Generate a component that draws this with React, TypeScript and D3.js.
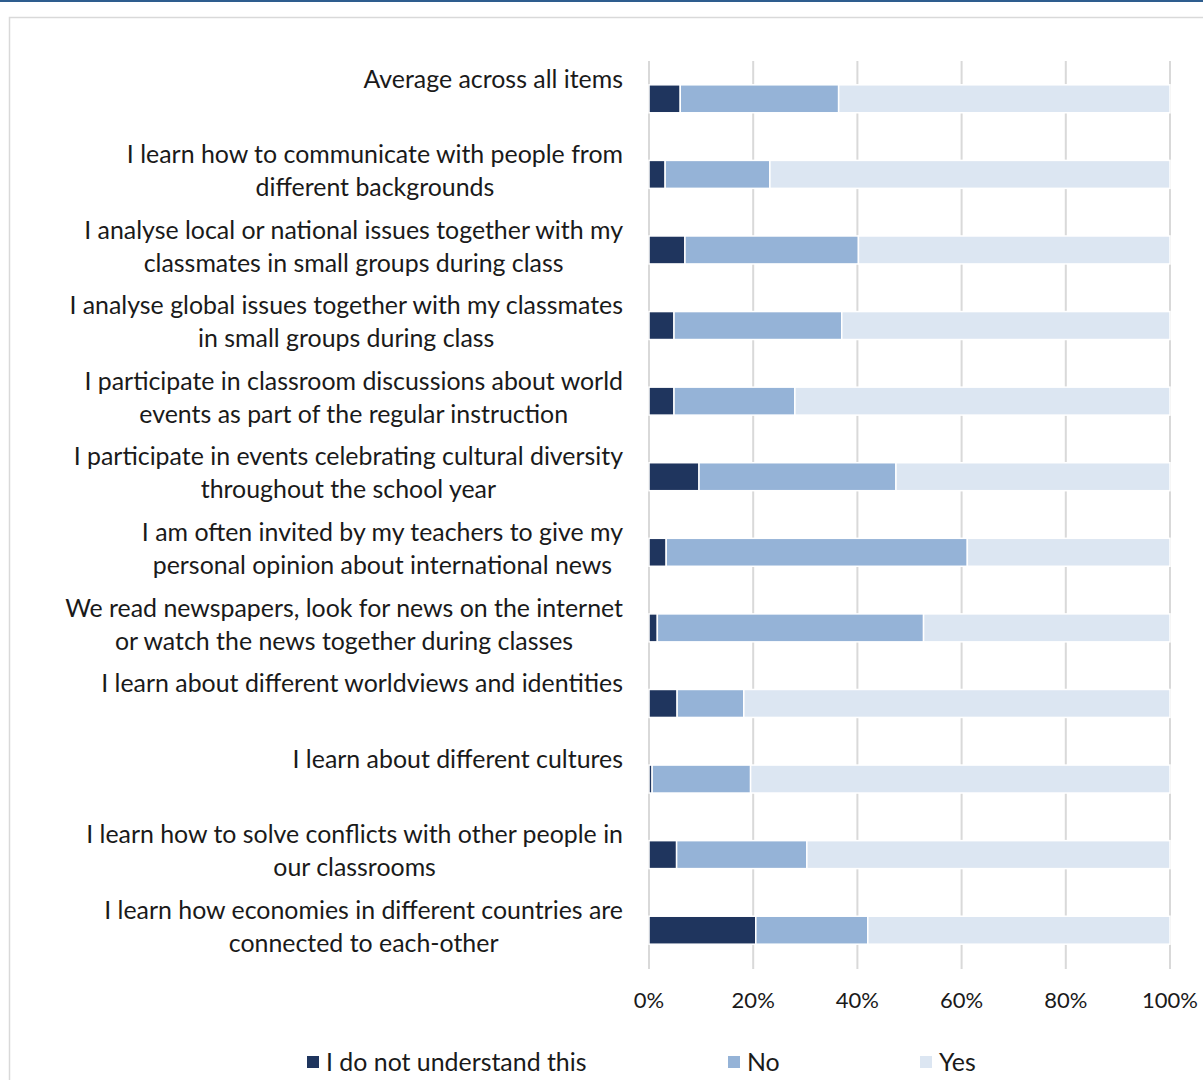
import React, { useEffect, useRef } from "react";
import * as d3 from "d3";

const categories: string[][] = [
  ["Average across all items"],
  ["I learn how to communicate with people from", "different backgrounds"],
  ["I analyse local or national issues together with my", "classmates in small groups during class"],
  ["I analyse global issues together with my classmates", "in small groups during class"],
  ["I participate in classroom discussions about world", "events as part of the regular instruction"],
  ["I participate in events celebrating cultural diversity", "throughout the school year"],
  ["I am often invited by my teachers to give my", "personal opinion about international news"],
  ["We read newspapers, look for news on the internet", "or watch the news together during classes"],
  ["I learn about different worldviews and identities"],
  ["I learn about different cultures"],
  ["I learn how to solve conflicts with other people in", "our classrooms"],
  ["I learn how economies in different countries are", "connected to each-other"],
];

const dontUnderstand = [6.0, 3.1, 6.9, 4.8, 4.8, 9.6, 3.3, 1.6, 5.4, 0.6, 5.3, 20.5];
const no = [30.4, 20.1, 33.3, 32.2, 23.2, 37.8, 57.8, 51.1, 12.8, 18.9, 25.0, 21.5];
const yes = dontUnderstand.map((d, i) => 100 - d - no[i]);

const seriesNames = ["I do not understand this", "No", "Yes"];
const seriesColors = ["#1f355e", "#95b3d7", "#dce6f2"];
const tickValues = [0, 20, 40, 60, 80, 100];

const FONT = "Lato, 'Open Sans', sans-serif";

export default function App() {
  const ref = useRef<SVGSVGElement>(null);

  useEffect(() => {
    const svg = d3.select(ref.current);
    svg.selectAll("*").remove();

    // top blue rule
    svg.append("rect").attr("x", 0).attr("y", 0).attr("width", 1203).attr("height", 2).attr("fill", "#2e5d8e");
    // chart frame
    svg.append("rect").attr("x", 9.5).attr("y", 17.5).attr("width", 1300).attr("height", 1200)
      .attr("fill", "white").attr("stroke", "#d9d9d9").attr("stroke-width", 1.5);

    const x = d3.scaleLinear().domain([0, 100]).range([649, 1170]);
    const y = d3.scaleBand<number>().domain(d3.range(categories.length)).range([61, 968]).paddingInner(0.63).paddingOuter(0.315);

    // gridlines
    svg.append("g").selectAll("line").data(tickValues).join("line")
      .attr("x1", (d) => x(d)).attr("x2", (d) => x(d))
      .attr("y1", 61).attr("y2", 969)
      .attr("stroke", "#d9d9d9").attr("stroke-width", 2);

    const rows = categories.map((_, i) => ({ i, vals: [dontUnderstand[i], no[i], yes[i]] }));
    const stack = d3.stack<any>().keys(["0", "1", "2"]).value((d: any, k: string) => d.vals[+k]);
    const stacked = stack(rows as any);

    stacked.forEach((layer, si) => {
      svg.append("g").selectAll("rect").data(layer).join("rect")
        .attr("x", (d: any) => x(d[0]))
        .attr("width", (d: any) => Math.max(0, x(d[1]) - x(d[0])))
        .attr("y", (_d: any, i: number) => y(i)!)
        .attr("height", y.bandwidth())
        .attr("fill", seriesColors[si])
        .attr("stroke", "white").attr("stroke-width", 1.5);
    });

    // category labels: block right-aligned at 623, lines centered inside block
    const lg = svg.append("g").attr("font-family", FONT).attr("font-size", 24.9).attr("fill", "#1a1a1a").attr("text-anchor", "middle");
    categories.forEach((lines, i) => {
      const cy = y(i)! + y.bandwidth() / 2;
      const texts = lines.map((t, li) =>
        lg.append("text").attr("y", cy - 20 + li * 33).attr("dy", "0.35em").text(t)
      );
      const w = Math.max(...texts.map((tx) => (tx.node() as SVGTextElement).getComputedTextLength()));
      texts.forEach((tx) => tx.attr("x", 623 - w / 2));
    });

    // x tick labels
    svg.append("g").attr("font-family", FONT).attr("font-size", 22).attr("fill", "#1a1a1a").attr("text-anchor", "middle")
      .selectAll("text").data(tickValues).join("text")
      .attr("x", (d) => x(d)).attr("y", 1000).attr("dy", "0.35em").text((d) => `${d}%`);

    // legend
    const legendX = [307, 728, 920];
    const leg = svg.append("g").attr("font-family", FONT).attr("font-size", 24.9).attr("fill", "#1a1a1a");
    seriesNames.forEach((n, i) => {
      leg.append("rect").attr("x", legendX[i]).attr("y", 1056).attr("width", 12).attr("height", 12).attr("fill", seriesColors[i]);
      leg.append("text").attr("x", legendX[i] + 19).attr("y", 1062).attr("dy", "0.35em").text(n);
    });
  }, []);

  return (
    <svg ref={ref} width={1203} height={1080} style={{ position: "absolute", left: 0, top: 0, background: "white" }} />
  );
}
